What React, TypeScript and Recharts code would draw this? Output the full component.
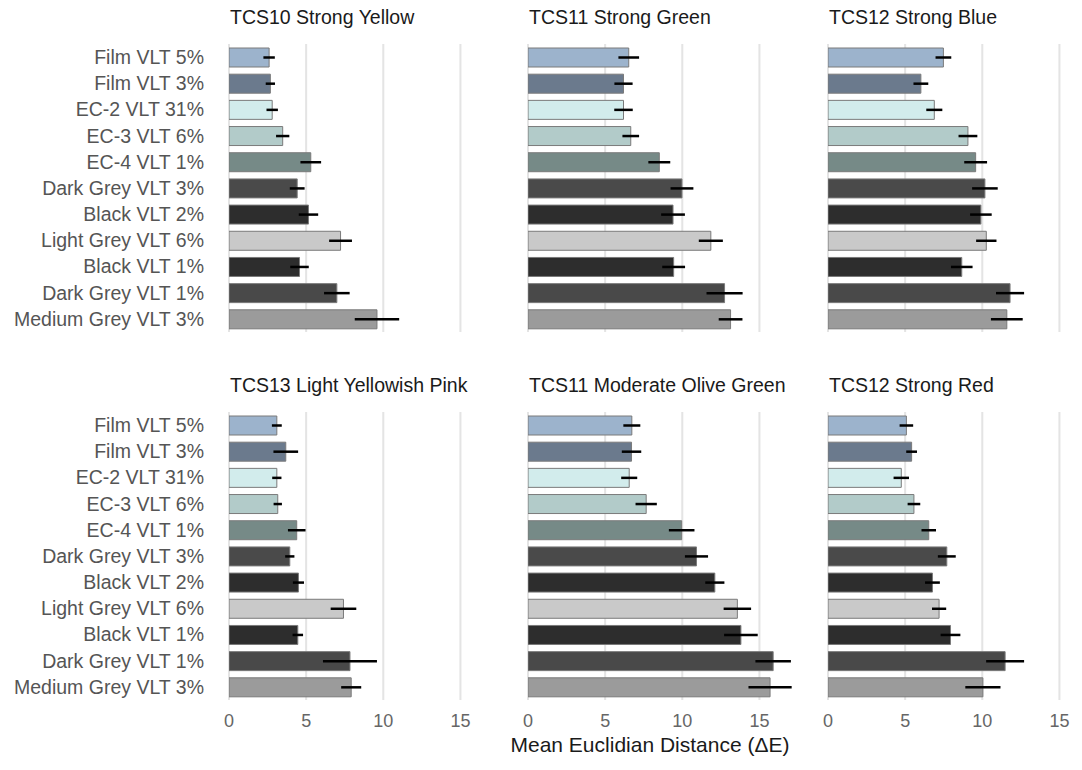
import { BarChart, Bar, XAxis, YAxis, CartesianGrid, ErrorBar, Cell } from "recharts";

const materials = [
  "Film VLT 5%",
  "Film VLT 3%",
  "EC-2 VLT 31%",
  "EC-3 VLT 6%",
  "EC-4 VLT 1%",
  "Dark Grey VLT 3%",
  "Black VLT 2%",
  "Light Grey VLT 6%",
  "Black VLT 1%",
  "Dark Grey VLT 1%",
  "Medium Grey VLT 3%",
];

const materialColors = [
  "#9cb3cc",
  "#6b7a8d",
  "#d2ecec",
  "#b2cbc9",
  "#768a87",
  "#4a4a4a",
  "#2d2d2d",
  "#c9c9c9",
  "#2d2d2d",
  "#494949",
  "#9b9b9b",
];

const xTicks = [0, 5, 10, 15];

// mean ΔE and half-width of the error bar, one entry per material
const strongYellow = [2.6, 2.68, 2.8, 3.48, 5.3, 4.42, 5.15, 7.23, 4.57, 6.99, 9.59];
const strongYellowErr = [0.37, 0.3, 0.37, 0.43, 0.67, 0.48, 0.63, 0.74, 0.6, 0.83, 1.44];

const strongGreen = [6.53, 6.19, 6.19, 6.66, 8.51, 9.98, 9.4, 11.85, 9.44, 12.74, 13.13];
const strongGreenErr = [0.67, 0.59, 0.6, 0.54, 0.71, 0.74, 0.77, 0.78, 0.74, 1.17, 0.77];

const strongBlue = [7.48, 6.02, 6.89, 9.07, 9.57, 10.17, 9.91, 10.26, 8.67, 11.8, 11.59];
const strongBlueErr = [0.51, 0.48, 0.52, 0.61, 0.74, 0.83, 0.7, 0.66, 0.7, 0.91, 1.03];

const yellowishPink = [3.1, 3.68, 3.1, 3.16, 4.39, 3.94, 4.5, 7.42, 4.46, 7.84, 7.92];
const yellowishPinkErr = [0.32, 0.8, 0.3, 0.27, 0.57, 0.3, 0.36, 0.83, 0.34, 1.75, 0.65];

const oliveGreen = [6.73, 6.71, 6.56, 7.66, 9.96, 10.92, 12.11, 13.57, 13.8, 15.89, 15.69];
const oliveGreenErr = [0.55, 0.63, 0.52, 0.69, 0.83, 0.75, 0.62, 0.89, 1.09, 1.15, 1.4];

const strongRed = [5.08, 5.42, 4.75, 5.57, 6.53, 7.7, 6.77, 7.2, 7.94, 11.48, 10.04];
const strongRedErr = [0.44, 0.35, 0.5, 0.41, 0.47, 0.58, 0.48, 0.46, 0.64, 1.23, 1.14];

const PLOT_W = 270;
const PLOT_H = 288;
const LABEL_W = 229;
const XAXIS_H = 40;
const PAD = 12; // room for the edge tick labels

function buildRows(values: number[], errs: number[]) {
  return materials.map((name, i) => ({ name, value: values[i], err: errs[i] }));
}

interface PanelProps {
  title: string;
  values: number[];
  errs: number[];
  left: number;
  top: number;
  showLabels?: boolean;
  showTicks?: boolean;
}

function Panel({ title, values, errs, left, top, showLabels = false, showTicks = false }: PanelProps) {
  const data = buildRows(values, errs);
  const yW = showLabels ? LABEL_W : 0;
  const xH = showTicks ? XAXIS_H : 0;
  const padL = showLabels ? 0 : PAD;
  return (
    <>
      <div
        style={{
          position: "absolute",
          left: left + yW + 1,
          top: top - 37,
          fontSize: 19.5,
          lineHeight: "20px",
          color: "#1a1a1a",
          whiteSpace: "nowrap",
        }}
      >
        {title}
      </div>
      <div style={{ position: "absolute", left: left - padL, top }}>
        <BarChart
          width={padL + yW + PLOT_W + PAD}
          height={PLOT_H + xH}
          data={data}
          layout="vertical"
          margin={{ top: 0, right: PAD, bottom: 0, left: padL }}
          barSize={19}
        >
          <CartesianGrid horizontal={false} stroke="#e4e4e4" strokeWidth={2} syncWithTicks />
          <XAxis
            type="number"
            domain={[0, 17.5]}
            ticks={xTicks}
            interval={0}
            allowDataOverflow
            height={xH}
            axisLine={false}
            tickLine={false}
            tickMargin={8}
            tick={showTicks ? { fontSize: 18, fill: "#666666" } : { fontSize: 1, fill: "transparent" }}
          />
          <YAxis
            type="category"
            dataKey="name"
            width={yW}
            hide={!showLabels}
            axisLine={false}
            tickLine={false}
            tickMargin={19}
            interval={0}
            tick={{ fontSize: 19.5, fill: "#555555" }}
          />
          <Bar dataKey="value" stroke="#7a7a7a" strokeWidth={1} isAnimationActive={false}>
            {data.map((d, i) => (
              <Cell key={d.name} fill={materialColors[i]} />
            ))}
            <ErrorBar dataKey="err" direction="x" width={0} stroke="#000000" strokeWidth={2.5} />
          </Bar>
        </BarChart>
      </div>
    </>
  );
}

export default function App() {
  return (
    <div
      style={{
        position: "absolute",
        left: 0,
        top: 0,
        width: 1082,
        height: 770,
        background: "#ffffff",
        fontFamily: "'Liberation Sans', Arial, sans-serif",
      }}
    >
      <Panel title="TCS10 Strong Yellow" values={strongYellow} errs={strongYellowErr} left={0} top={44} showLabels />
      <Panel title="TCS11 Strong Green" values={strongGreen} errs={strongGreenErr} left={528} top={44} />
      <Panel title="TCS12 Strong Blue" values={strongBlue} errs={strongBlueErr} left={828} top={44} />
      <Panel
        title="TCS13 Light Yellowish Pink"
        values={yellowishPink}
        errs={yellowishPinkErr}
        left={0}
        top={412}
        showLabels
        showTicks
      />
      <Panel
        title="TCS11 Moderate Olive Green"
        values={oliveGreen}
        errs={oliveGreenErr}
        left={528}
        top={412}
        showTicks
      />
      <Panel title="TCS12 Strong Red" values={strongRed} errs={strongRedErr} left={828} top={412} showTicks />
      <div
        style={{
          position: "absolute",
          left: 450,
          top: 734,
          width: 400,
          textAlign: "center",
          fontSize: 21,
          lineHeight: "22px",
          color: "#1a1a1a",
        }}
      >
        Mean Euclidian Distance (ΔE)
      </div>
    </div>
  );
}
